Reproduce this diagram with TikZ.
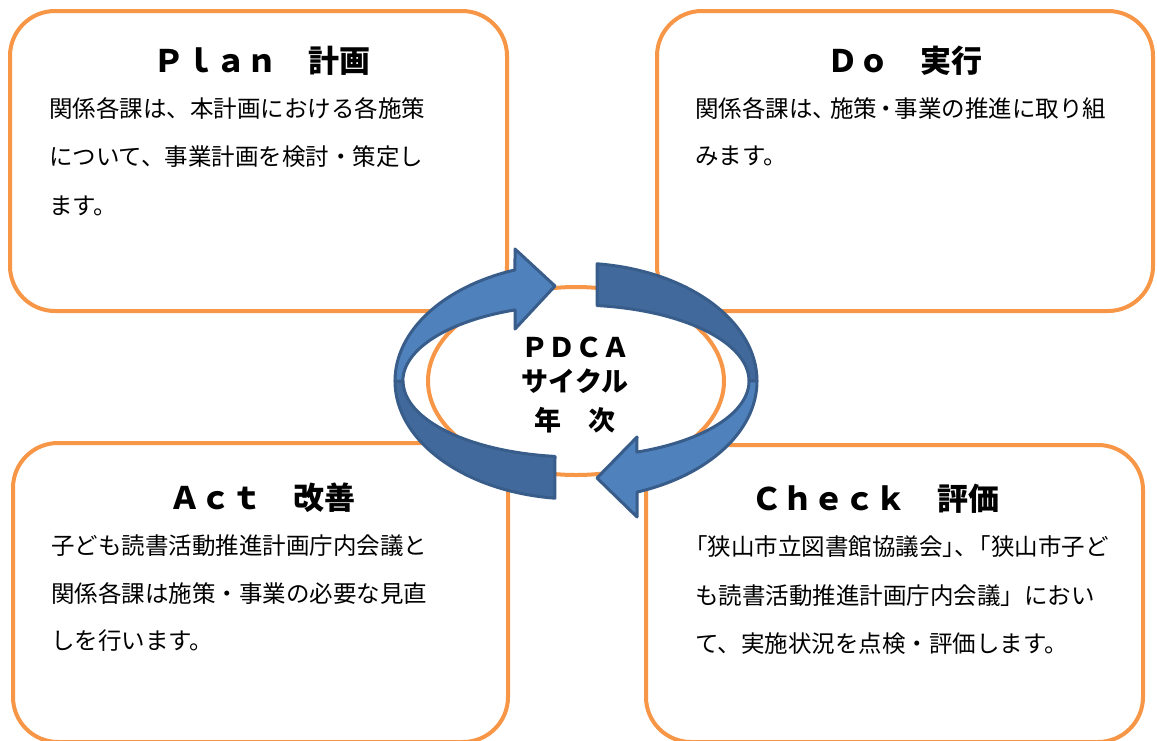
\documentclass[tikz,border=0pt]{standalone}
\usepackage{fontspec}
\usetikzlibrary{shapes.geometric}
\newfontfamily\cjk{Noto Sans CJK JP}
\definecolor{orng}{HTML}{F79646}
\definecolor{blu}{HTML}{4F81BD}
\definecolor{dblu}{HTML}{41699C}
\definecolor{edgeblu}{HTML}{385D8A}
\begin{document}
\begin{tikzpicture}[x=1pt,y=1pt,
  box/.style={draw=orng, line width=4pt, rounded corners=45pt, fill=white, inner sep=0pt, rectangle},
  body/.style={anchor=base west, inner sep=0pt, font=\cjk\fontsize{23.5}{28}\selectfont},
  ttl/.style={anchor=base, inner sep=0pt, font=\cjk\bfseries\fontsize{31}{36}\selectfont},
  ctr/.style={anchor=base, inner sep=0pt, font=\cjk\bfseries\fontsize{27}{32}\selectfont},
  band/.style={draw=edgeblu, line width=3pt, line join=round},
]
\useasboundingbox (0,0) rectangle (1157,-740);
\fill[white] (0,0) rectangle (1157,-740);

% boxes
\node[box, minimum width=497pt, minimum height=300pt] (plan) at (258.5,-161) {};
\node[box, minimum width=496pt, minimum height=300pt] (do) at (905,-161) {};
\node[box, minimum width=495pt, minimum height=299pt] (act) at (260.5,-592.5) {};
\node[box, minimum width=497pt, minimum height=297pt] (check) at (894.5,-593.5) {};

% centre ellipse
\node[draw=orng, line width=4pt, fill=white, ellipse, inner sep=0pt,
      minimum width=296pt, minimum height=188pt] (cyc) at (576,-381) {};

% circular arrows: back (dark) parts
\path[band, fill=dblu] (395,-381) arc[start angle=180, end angle=263.3, x radius=181, y radius=118]
  -- (555,-456.4) arc[start angle=263, end angle=180, x radius=173, y radius=76] -- cycle;
\path[band, fill=dblu] (597.1,-263.8) arc[start angle=83.3, end angle=0, x radius=181, y radius=118]
  -- (749,-381) arc[start angle=0, end angle=83, x radius=173, y radius=76] -- cycle;
% front (light) parts with heads
\path[band, fill=blu] (395,-381) arc[start angle=180, end angle=109.7, x radius=181, y radius=118]
  -- (515,-249) -- (555,-286) -- (515,-329) -- (515,-309.9)
  arc[start angle=110.6, end angle=180, x radius=173, y radius=76] -- cycle;
\path[band, fill=blu] (757,-381) arc[start angle=0, end angle=-70.3, x radius=181, y radius=118]
  -- (637,-517) -- (597,-478) -- (637,-437) -- (636.9,-452.1)
  arc[start angle=-69.4, end angle=0, x radius=173, y radius=76] -- cycle;

% centre text
\node[ctr] (c1) at (575,-357) {ＰＤＣＡ};
\node[ctr] (c2) at (575,-391) {サイクル};
\node[ctr] (c3) at (575,-430) {年　次};

% titles
\node[ttl] (tp) at (261.5,-72) {Ｐｌａｎ　計画};
\node[ttl] (td) at (905,-72) {Ｄｏ　実行};
\node[ttl] (ta) at (262.5,-509) {Ａｃｔ　改善};
\node[ttl] (tc) at (875,-510) {Ｃｈｅｃｋ　評価};

% body texts
\node[body] (p1) at (49,-117.5) {関係各課は、本計画における各施策};
\node[body] (p2) at (49,-165.5) {について、事業計画を検討・策定し};
\node[body] (p3) at (49,-214.5) {ます。};

\node[body] (d1) at (695,-117.5) {関係各課は、\kern-6pt施策\kern-3pt・\kern-3pt事業の推進に取り組};
\node[body] (d2) at (695,-164.5) {みます。};

\node[body] (a1) at (51,-554.5) {子ども読書活動推進計画庁内会議と};
\node[body] (a2) at (51,-602.5) {関係各課は施策・事業の必要な見直};
\node[body] (a3) at (51,-649.5) {しを行います。};

\node[body] (k1) at (695,-555.5) {\kern-11pt「狭山市立図書館協議会」\kern-12pt、\kern-10pt「狭山市子ど};
\node[body] (k2) at (695,-604.5) {も読書活動推進計画庁内会議」におい};
\node[body] (k3) at (695,-652.5) {て、実施状況を点検・評価します。};
\end{tikzpicture}
\end{document}
